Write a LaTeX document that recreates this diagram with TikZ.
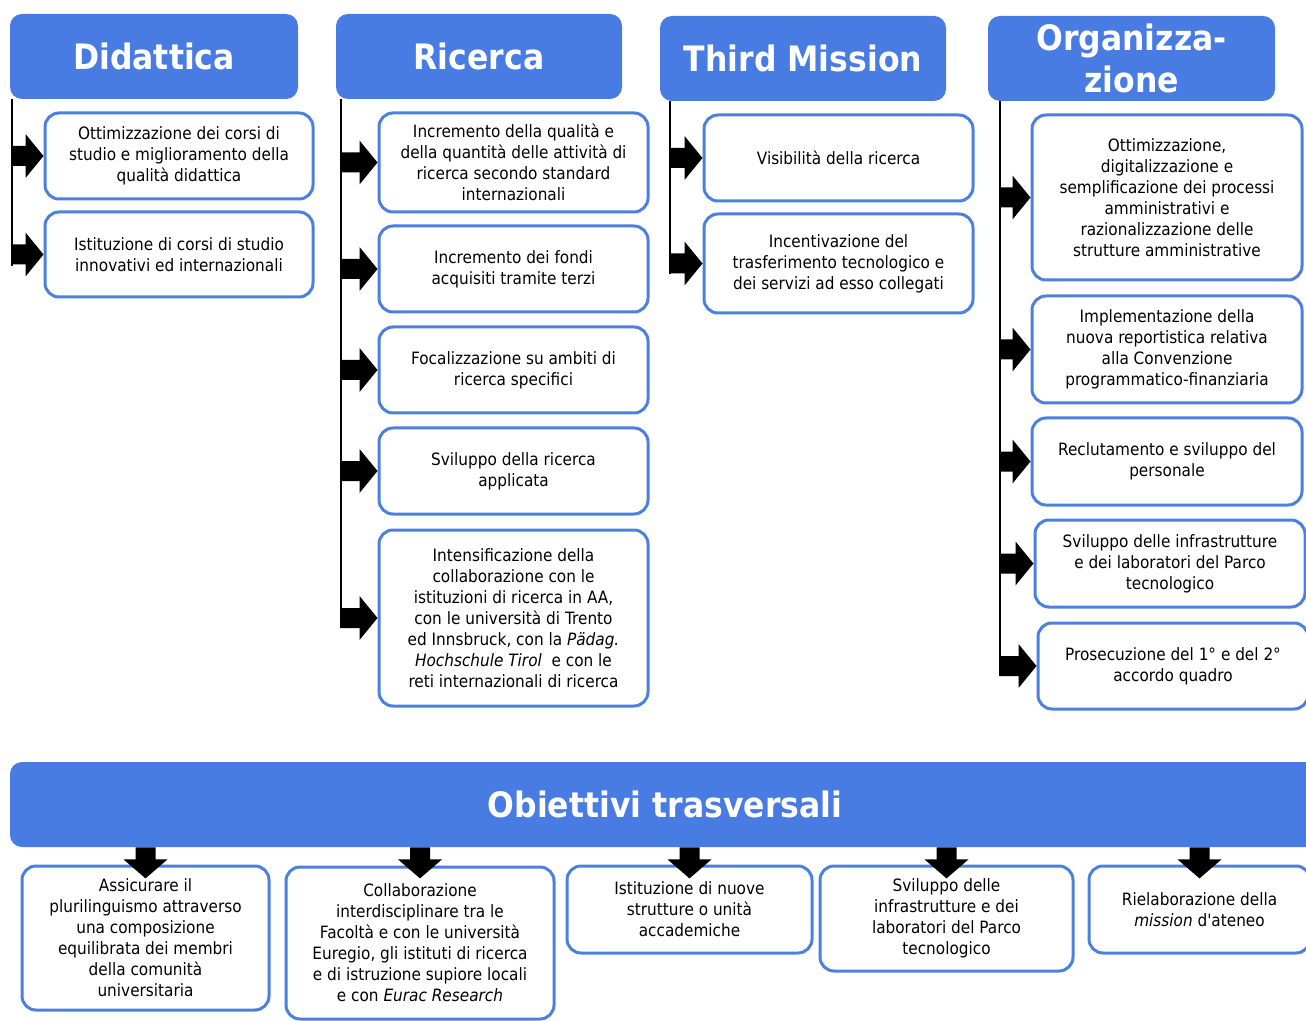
\documentclass[tikz,border=0pt]{standalone}
\usepackage{fontspec}
\setmainfont{DejaVu Sans}[FakeStretch=0.9, Ligatures=TeXOff]
\usetikzlibrary{calc}
\definecolor{hblue}{RGB}{72,124,226}
\definecolor{bblue}{RGB}{76,128,222}
\tikzset{
  header/.style={fill=hblue, draw=none, rounded corners=6pt, inner sep=0pt,
    text=white, font=\fontsize{17.5}{21}\selectfont\bfseries, align=center},
  goal/.style={draw=bblue, line width=1.5pt, fill=white, rounded corners=7pt,
    inner sep=0pt, align=center, font=\fontsize{8.5}{10.5}\selectfont},
  spine/.style={line width=0.75pt, draw=black},
  rarrow/.style={to path={let \p1=(\tikztostart), \p2=(\tikztotarget) in
    (\x1,\y2+5pt) -- (\x2-9pt,\y2+5pt) -- (\x2-9pt,\y2+11pt) -- (\x2,\y2)
    -- (\x2-9pt,\y2-11pt) -- (\x2-9pt,\y2-5pt) -- (\x1,\y2-5pt) -- cycle}},
  darrow/.style={to path={let \p1=(\tikztostart), \p2=(\tikztotarget) in
    (\x2-5pt,\y1) -- (\x2-5pt,\y1-6pt) -- (\x2-11pt,\y1-6pt) -- (\x2,\y1-15.5pt)
    -- (\x2+11pt,\y1-6pt) -- (\x2+5pt,\y1-6pt) -- (\x2+5pt,\y1) -- cycle}}
}
\begin{document}
\begin{tikzpicture}[x=0.5pt,y=-0.5pt]
\useasboundingbox (0,0) rectangle (1306,1021);
\fill[white] (0,0) rectangle (1306,1021);

% spines
\coordinate (dl) at (12,99);   \coordinate (dle) at (12,266);
\coordinate (rl) at (341,99);  \coordinate (rle) at (341,628);
\coordinate (tl) at (670,101); \coordinate (tle) at (670,274);
\coordinate (ol) at (1000,101);\coordinate (ole) at (1000,676);
\draw[spine] (dl) -- (dle);
\draw[spine] (rl) -- (rle);
\draw[spine] (tl) -- (tle);
\draw[spine] (ol) -- (ole);

% headers
\node[header, minimum width=144pt, minimum height=42.5pt] (dh) at (154,56.5) {Didattica};
\node[header, minimum width=143pt, minimum height=42.5pt] (rh) at (479,56.5) {Ricerca};
\node[header, minimum width=143pt, minimum height=42.5pt] (th) at (803,58.5) {Third Mission};
\node[header, minimum width=143.5pt, minimum height=42.5pt] (oh) at (1131.5,58.5) {Organizza-\\zione};

% Didattica
\node[goal, minimum width=134pt, minimum height=43pt] (d1) at (179,156) {Ottimizzazione dei corsi di\\studio e miglioramento della\\qualità didattica};
\node[goal, minimum width=134pt, minimum height=42.5pt] (d2) at (179,254.5) {Istituzione di corsi di studio\\innovativi ed internazionali};

% Ricerca
\node[goal, minimum width=134.5pt, minimum height=49.5pt] (r1) at (513.5,162.5) {Incremento della qualità e\\della quantità delle attività di\\ricerca secondo standard\\internazionali};
\node[goal, minimum width=134.5pt, minimum height=43pt] (r2) at (513.5,269) {Incremento dei fondi\\acquisiti tramite terzi};
\node[goal, minimum width=134.5pt, minimum height=43pt] (r3) at (513.5,370) {Focalizzazione su ambiti di\\ricerca specifici};
\node[goal, minimum width=134.5pt, minimum height=43pt] (r4) at (513.5,471) {Sviluppo della ricerca\\applicata};
\node[goal, minimum width=134.5pt, minimum height=88pt] (r5) at (513.5,618) {Intensificazione della\\collaborazione con le\\istituzioni di ricerca in AA,\\con le università di Trento\\ed Innsbruck, con la \textit{Pädag.}\\\textit{Hochschule Tirol}\ \ e con le\\reti internazionali di ricerca};

% Third Mission
\node[goal, minimum width=134.5pt, minimum height=43pt] (t1) at (838.5,158) {Visibilità della ricerca};
\node[goal, minimum width=134.5pt, minimum height=49.5pt] (t2) at (838.5,263.5) {Incentivazione del\\trasferimento tecnologico e\\dei servizi ad esso collegati};

% Organizzazione
\node[goal, minimum width=135pt, minimum height=82.5pt] (o1) at (1167,197.5) {Ottimizzazione,\\digitalizzazione e\\semplificazione dei processi\\amministrativi e\\razionalizzazione delle\\strutture amministrative};
\node[goal, minimum width=135pt, minimum height=53.5pt] (o2) at (1167,349.5) {Implementazione della\\nuova reportistica relativa\\alla Convenzione\\programmatico-finanziaria};
\node[goal, minimum width=135pt, minimum height=43.5pt] (o3) at (1167,461.5) {Reclutamento e sviluppo del\\personale};
\node[goal, minimum width=135pt, minimum height=43.5pt] (o4) at (1170,563.5) {Sviluppo delle infrastrutture\\e dei laboratori del Parco\\tecnologico};
\node[goal, minimum width=135pt, minimum height=43pt] (o5) at (1173,666) {Prosecuzione del 1° e del 2°\\accordo quadro};

% side arrows
\fill (dl) to[rarrow] (d1.west);
\fill (dl) to[rarrow] (d2.west);
\fill (rl) to[rarrow] (r1.west);
\fill (rl) to[rarrow] (r2.west);
\fill (rl) to[rarrow] (r3.west);
\fill (rl) to[rarrow] (r4.west);
\fill (rl) to[rarrow] (r5.west);
\fill (tl) to[rarrow] (t1.west);
\fill (tl) to[rarrow] (t2.west);
\fill (ol) to[rarrow] (o1.west);
\fill (ol) to[rarrow] (o2.west);
\fill (ol) to[rarrow] (o3.west);
\fill (ol) to[rarrow] (o4.west);
\fill (ol) to[rarrow] (o5.west);

% transversal
\node[header, rounded corners=6pt, minimum width=655pt, minimum height=42.5pt] (bar) at (665,804.5) {Obiettivi trasversali};
\node[goal, minimum width=123.5pt, minimum height=72pt] (b1) at (145.5,938) {Assicurare il\\plurilinguismo attraverso\\una composizione\\equilibrata dei membri\\della comunità\\universitaria};
\node[goal, minimum width=134pt, minimum height=76pt] (b2) at (420,943) {Collaborazione\\interdisciplinare tra le\\Facoltà e con le università\\Euregio, gli istituti di ricerca\\e di istruzione supiore locali\\e con \textit{Eurac Research}};
\node[goal, minimum width=122.5pt, minimum height=43.5pt] (b3) at (689.5,909.5) {Istituzione di nuove\\strutture o unità\\accademiche};
\node[goal, minimum width=126.5pt, minimum height=52.5pt] (b4) at (946.5,918.5) {Sviluppo delle\\infrastrutture e dei\\laboratori del Parco\\tecnologico};
\node[goal, minimum width=110.5pt, minimum height=43.5pt] (b5) at (1199.5,909.5) {Rielaborazione della\\\textit{mission} d'ateneo};

\fill (bar.south) to[darrow] (b1.north);
\fill (bar.south) to[darrow] (b2.north);
\fill (bar.south) to[darrow] (b3.north);
\fill (bar.south) to[darrow] (b4.north);
\fill (bar.south) to[darrow] (b5.north);
\end{tikzpicture}
\end{document}
